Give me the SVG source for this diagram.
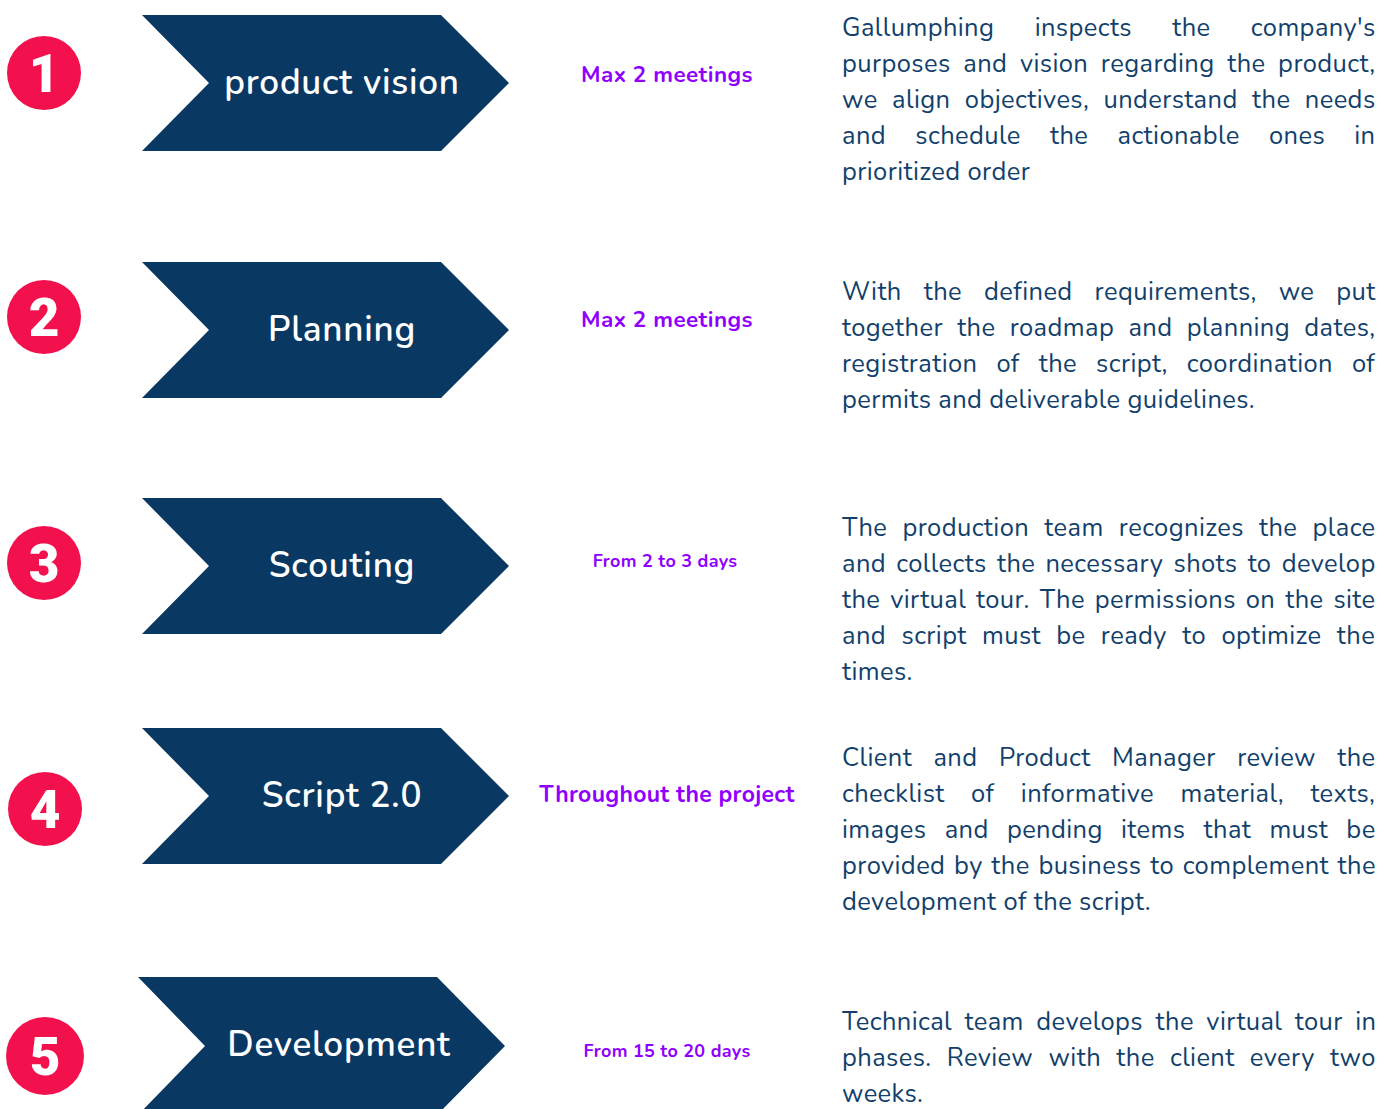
<svg xmlns="http://www.w3.org/2000/svg" width="1380" height="1109" viewBox="0 0 1380 1109">
<style>
.chev{fill:#093863}
.num{fill:#f2114c}
.numt{fill:#fff;font-family:Roboto,"Liberation Sans",sans-serif;font-weight:900;font-size:53px;text-anchor:middle}
.lbl{fill:#fff;font-family:"Nunito","Open Sans",sans-serif;font-weight:600;font-size:35px;letter-spacing:0.8px;text-anchor:middle}
.dur{fill:#8f00ff;font-family:"Nunito","Open Sans",sans-serif;font-weight:700;text-anchor:middle}
.par{fill:#123f6b;font-family:"Nunito","Open Sans",sans-serif;font-size:25.5px;letter-spacing:0.4px}
</style>
<rect width="1380" height="1109" fill="#fff"/>

<g id="step1">
<circle class="num" cx="44" cy="73" r="37"/>
<text class="numt" x="44" y="92">1</text>
<path class="chev" d="M142,15 H441 L509,83 L441,151 H142 L209,83 Z"/>
<text class="lbl" x="342" y="94">product vision</text>
<text class="dur" x="667" y="82" font-size="22.5" letter-spacing="0.4">Max 2 meetings</text>
<text class="par" x="842" y="36" word-spacing="33.3"><tspan>Gallumphing</tspan> <tspan>inspects</tspan> <tspan>the</tspan> <tspan>company's</tspan></text>
<text class="par" x="842" y="72" word-spacing="5.6"><tspan>purposes</tspan> <tspan>and</tspan> <tspan>vision</tspan> <tspan>regarding</tspan> <tspan>the</tspan> <tspan>product,</tspan></text>
<text class="par" x="842" y="108" word-spacing="7.4"><tspan>we</tspan> <tspan>align</tspan> <tspan>objectives,</tspan> <tspan>understand</tspan> <tspan>the</tspan> <tspan>needs</tspan></text>
<text class="par" x="842" y="144" word-spacing="22.2"><tspan>and</tspan> <tspan>schedule</tspan> <tspan>the</tspan> <tspan>actionable</tspan> <tspan>ones</tspan> <tspan>in</tspan></text>
<text class="par" x="842" y="180"><tspan>prioritized</tspan> <tspan>order</tspan></text>
</g>

<g id="step2">
<circle class="num" cx="44" cy="317" r="37"/>
<text class="numt" x="44" y="336">2</text>
<path class="chev" d="M142,262 H441 L509,330 L441,398 H142 L209,330 Z"/>
<text class="lbl" x="342" y="341">Planning</text>
<text class="dur" x="667" y="327" font-size="22.5" letter-spacing="0.4">Max 2 meetings</text>
<text class="par" x="842" y="300" word-spacing="15"><tspan>With</tspan> <tspan>the</tspan> <tspan>defined</tspan> <tspan>requirements,</tspan> <tspan>we</tspan> <tspan>put</tspan></text>
<text class="par" x="842" y="336" word-spacing="7.2"><tspan>together</tspan> <tspan>the</tspan> <tspan>roadmap</tspan> <tspan>and</tspan> <tspan>planning</tspan> <tspan>dates,</tspan></text>
<text class="par" x="842" y="372" word-spacing="12"><tspan>registration</tspan> <tspan>of</tspan> <tspan>the</tspan> <tspan>script,</tspan> <tspan>coordination</tspan> <tspan>of</tspan></text>
<text class="par" x="842" y="408"><tspan>permits</tspan> <tspan>and</tspan> <tspan>deliverable</tspan> <tspan>guidelines.</tspan></text>
</g>

<g id="step3">
<circle class="num" cx="44" cy="563" r="37"/>
<text class="numt" x="44" y="582">3</text>
<path class="chev" d="M142,498 H441 L509,566 L441,634 H142 L209,566 Z"/>
<text class="lbl" x="342" y="577">Scouting</text>
<text class="dur" x="665" y="567" font-size="18" letter-spacing="0.3">From 2 to 3 days</text>
<text class="par" x="842" y="536" word-spacing="8.2"><tspan>The</tspan> <tspan>production</tspan> <tspan>team</tspan> <tspan>recognizes</tspan> <tspan>the</tspan> <tspan>place</tspan></text>
<text class="par" x="842" y="572" word-spacing="3.2"><tspan>and</tspan> <tspan>collects</tspan> <tspan>the</tspan> <tspan>necessary</tspan> <tspan>shots</tspan> <tspan>to</tspan> <tspan>develop</tspan></text>
<text class="par" x="842" y="608" word-spacing="2.9"><tspan>the</tspan> <tspan>virtual</tspan> <tspan>tour.</tspan> <tspan>The</tspan> <tspan>permissions</tspan> <tspan>on</tspan> <tspan>the</tspan> <tspan>site</tspan></text>
<text class="par" x="842" y="644" word-spacing="8.4"><tspan>and</tspan> <tspan>script</tspan> <tspan>must</tspan> <tspan>be</tspan> <tspan>ready</tspan> <tspan>to</tspan> <tspan>optimize</tspan> <tspan>the</tspan></text>
<text class="par" x="842" y="680"><tspan>times.</tspan></text>
</g>

<g id="step4">
<circle class="num" cx="45" cy="809" r="37"/>
<text class="numt" x="45" y="828">4</text>
<path class="chev" d="M142,728 H441 L509,796 L441,864 H142 L209,796 Z"/>
<text class="lbl" x="342" y="807">Script 2.0</text>
<text class="dur" x="667" y="802" font-size="23" letter-spacing="0.3">Throughout the project</text>
<text class="par" x="842" y="766" word-spacing="14.4"><tspan>Client</tspan> <tspan>and</tspan> <tspan>Product</tspan> <tspan>Manager</tspan> <tspan>review</tspan> <tspan>the</tspan></text>
<text class="par" x="842" y="802" word-spacing="19.5"><tspan>checklist</tspan> <tspan>of</tspan> <tspan>informative</tspan> <tspan>material,</tspan> <tspan>texts,</tspan></text>
<text class="par" x="842" y="838" word-spacing="11.2"><tspan>images</tspan> <tspan>and</tspan> <tspan>pending</tspan> <tspan>items</tspan> <tspan>that</tspan> <tspan>must</tspan> <tspan>be</tspan></text>
<text class="par" x="842" y="874" word-spacing="1.7"><tspan>provided</tspan> <tspan>by</tspan> <tspan>the</tspan> <tspan>business</tspan> <tspan>to</tspan> <tspan>complement</tspan> <tspan>the</tspan></text>
<text class="par" x="842" y="910"><tspan>development</tspan> <tspan>of</tspan> <tspan>the</tspan> <tspan>script.</tspan></text>
</g>

<g id="step5">
<circle class="num" cx="45" cy="1056" r="39"/>
<text class="numt" x="45" y="1075">5</text>
<path class="chev" d="M138,977 H437 L505,1046 L437,1115 H138 L205,1046 Z"/>
<text class="lbl" x="339" y="1056">Development</text>
<text class="dur" x="667" y="1057" font-size="18" letter-spacing="0.3">From 15 to 20 days</text>
<text class="par" x="842" y="1030" word-spacing="5.5"><tspan>Technical</tspan> <tspan>team</tspan> <tspan>develops</tspan> <tspan>the</tspan> <tspan>virtual</tspan> <tspan>tour</tspan> <tspan>in</tspan></text>
<text class="par" x="842" y="1066" word-spacing="8.3"><tspan>phases.</tspan> <tspan>Review</tspan> <tspan>with</tspan> <tspan>the</tspan> <tspan>client</tspan> <tspan>every</tspan> <tspan>two</tspan></text>
<text class="par" x="842" y="1102"><tspan>weeks.</tspan></text>
</g>

<g id="connectors"></g>
</svg>
